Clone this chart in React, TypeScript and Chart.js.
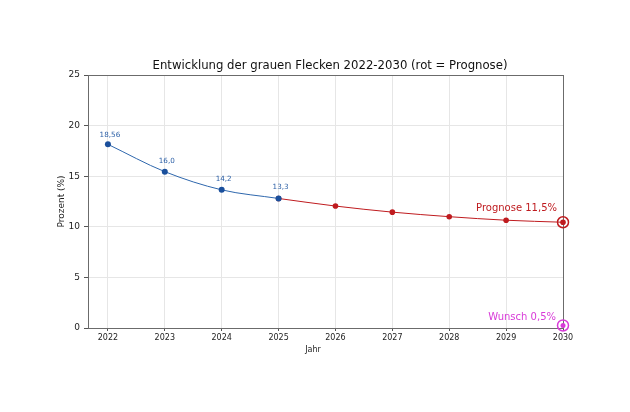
import React, { useEffect, useRef } from 'react';
import { Chart, registerables } from 'chart.js';

Chart.register(...registerables);

const chartTitle = 'Entwicklung der grauen Flecken 2022-2030 (rot = Prognose)';
const xAxisTitle = 'Jahr';
const yAxisTitle = 'Prozent (%)';

const years = [2022, 2023, 2024, 2025, 2026, 2027, 2028, 2029, 2030];
const yTicks = [0, 5, 10, 15, 20, 25];

const actualYears = [2022, 2023, 2024, 2025];
const actualValues = [18.15, 15.45, 13.65, 12.8];
const actualLabels = ['18,56', '16,0', '14,2', '13,3'];

const forecastYears = [2025, 2026, 2027, 2028, 2029, 2030];
const forecastValues = [12.8, 12.05, 11.45, 11.0, 10.65, 10.45];
const forecastLabel = 'Prognose 11,5%';

const wishYear = 2030;
const wishValue = 0.25;
const wishLabel = 'Wunsch 0,5%';

const FONT = '"DejaVu Sans", sans-serif';
const BLUE_LINE = '#2e67ad';
const BLUE_DOT = '#1a4f9c';
const BLUE_TEXT = '#2b5fa6';
const RED = '#bf1b1f';
const MAGENTA = '#d83ad8';

const textPlugin = {
  id: 'textPlugin',
  beforeDatasetsDraw(chart: any) {
    const { ctx, chartArea } = chart;
    ctx.save();
    ctx.strokeStyle = '#6b6b6b';
    ctx.lineWidth = 1;
    ctx.strokeRect(chartArea.left + 0.5, chartArea.top + 0.5, chartArea.right - chartArea.left, chartArea.bottom - chartArea.top);
    ctx.restore();
  },
  afterDraw(chart: any) {
    const { ctx, chartArea, scales } = chart;
    const xs = scales.x;
    const ys = scales.y;
    ctx.save();
    // title
    ctx.fillStyle = '#111';
    ctx.font = `11.7px ${FONT}`;
    ctx.textAlign = 'center';
    ctx.textBaseline = 'middle';
    ctx.fillText(chartTitle, 330, 66);
    // axis titles
    ctx.font = `8px ${FONT}`;
    ctx.fillStyle = '#222';
    ctx.fillText(xAxisTitle, 313, 350);
    ctx.save();
    ctx.translate(62, (chartArea.top + chartArea.bottom) / 2);
    ctx.rotate(-Math.PI / 2);
    ctx.font = `9px ${FONT}`;
    ctx.fillText(yAxisTitle, 0, 0);
    ctx.restore();
    // value labels
    ctx.font = `7.2px ${FONT}`;
    ctx.fillStyle = BLUE_TEXT;
    actualYears.forEach((yr, i) => {
      ctx.fillText(actualLabels[i], xs.getPixelForValue(yr) + 2, ys.getPixelForValue(actualValues[i]) - (i === 0 ? 9 : 11));
    });
    // annotations
    ctx.font = `10px ${FONT}`;
    ctx.textAlign = 'right';
    ctx.fillStyle = RED;
    const lastF = forecastValues[forecastValues.length - 1];
    ctx.fillText(forecastLabel, xs.getPixelForValue(2030) - 6, ys.getPixelForValue(lastF) - 13.5);
    ctx.fillStyle = MAGENTA;
    ctx.fillText(wishLabel, xs.getPixelForValue(wishYear) - 7, ys.getPixelForValue(wishValue) - 8.5);
    ctx.restore();
  },
};

export default function App() {
  const ref = useRef<HTMLCanvasElement | null>(null);
  useEffect(() => {
    if (!ref.current) return;
    const chart = new Chart(ref.current, {
      type: 'line',
      data: {
        datasets: [
          {
            data: actualYears.map((x, i) => ({ x, y: actualValues[i] })),
            borderColor: BLUE_LINE,
            backgroundColor: BLUE_DOT,
            borderWidth: 1,
            pointRadius: 3,
            pointBorderWidth: 0,
            cubicInterpolationMode: 'monotone',
            order: 1,
            clip: false,
          },
          {
            data: forecastYears.map((x, i) => ({ x, y: forecastValues[i] })),
            borderColor: RED,
            backgroundColor: RED,
            borderWidth: 1,
            pointRadius: 2.8,
            pointBorderWidth: 0,
            cubicInterpolationMode: 'monotone',
            order: 2,
            clip: false,
          },
          {
            data: [{ x: 2030, y: forecastValues[forecastValues.length - 1] }],
            showLine: false,
            borderColor: RED,
            backgroundColor: 'rgba(0,0,0,0)',
            pointRadius: 5.5,
            pointBorderWidth: 1.5,
            order: 0,
            clip: false,
          },
          {
            data: [{ x: wishYear, y: wishValue }],
            showLine: false,
            borderColor: MAGENTA,
            backgroundColor: 'rgba(0,0,0,0)',
            pointRadius: 5.5,
            pointBorderWidth: 1.5,
            order: 0,
            clip: false,
          },
          {
            data: [{ x: wishYear, y: wishValue }],
            showLine: false,
            borderColor: MAGENTA,
            backgroundColor: MAGENTA,
            pointRadius: 2.5,
            pointBorderWidth: 0,
            order: 0,
            clip: false,
          },
        ],
      },
      options: {
        responsive: false,
        animation: false,
        events: [],
        layout: { padding: { left: 0, top: 75, right: 67, bottom: 0 } },
        plugins: { legend: { display: false }, title: { display: false }, tooltip: { enabled: false } },
        scales: {
          x: {
            type: 'linear',
            min: 2021.65,
            max: 2030,
            afterBuildTicks: (s: any) => { s.ticks = years.map((v) => ({ value: v })); },
            afterFit: (s: any) => { s.height = 84; },
            ticks: {
              font: { family: FONT, size: 8 },
              color: '#222',
              padding: 2,
              maxRotation: 0,
              autoSkip: false,
              callback: (v: any) => String(v),
            },
            grid: { color: '#e6e6e6', tickColor: '#555', tickLength: 3, lineWidth: 1 },
            border: { color: '#6b6b6b', width: 1 },
          },
          y: {
            min: 0,
            max: 25,
            afterBuildTicks: (s: any) => { s.ticks = yTicks.map((v) => ({ value: v })); },
            afterFit: (s: any) => { s.width = 88; },
            ticks: {
              font: { family: FONT, size: 9 },
              color: '#222',
              padding: 4,
            },
            grid: { color: '#e6e6e6', tickColor: '#555', tickLength: 4, lineWidth: 1 },
            border: { color: '#6b6b6b', width: 1 },
          },
        },
      },
      plugins: [textPlugin],
    } as any);
    return () => chart.destroy();
  }, []);
  return (
    <div style={{ position: 'fixed', left: 0, top: 0, width: 630, height: 412, background: '#fff' }}>
      <canvas ref={ref} width={630} height={412} style={{ width: 630, height: 412, display: 'block' }} />
    </div>
  );
}
